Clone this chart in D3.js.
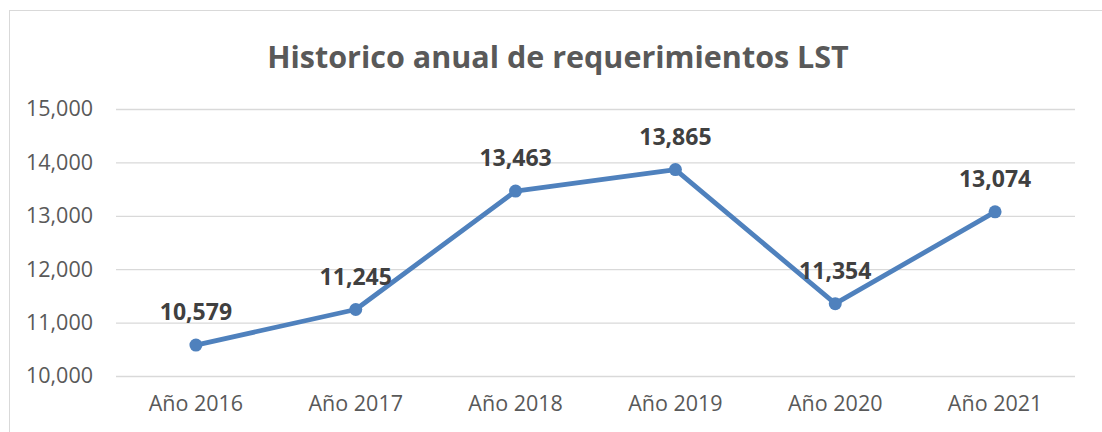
<!DOCTYPE html>
<html>
<head>
<meta charset="utf-8">
<script src="https://cdn.jsdelivr.net/npm/d3@7"></script>
<style>
  body { margin: 0; background: #fff; }
  svg { display: block; }
</style>
</head>
<body>
<script>
var years = ['Año 2016', 'Año 2017', 'Año 2018', 'Año 2019', 'Año 2020', 'Año 2021'];
var values = [10579, 11245, 13463, 13865, 11354, 13074];
var yTicks = [10000, 11000, 12000, 13000, 14000, 15000];
var title = 'Historico anual de requerimientos LST';

var width = 1102,
    height = 432;
var plotLeft = 116, plotRight = 1075, plotTop = 109, plotBottom = 376;
var font = '"Open Sans", sans-serif';

var svg = d3.select('body').append('svg')
    .attr('width', width)
    .attr('height', height)
    .style('font-family', font);

/* chart border */
svg.append('rect')
    .attr('x', 9.5).attr('y', 10.5)
    .attr('width', 1110).attr('height', 440)
    .attr('fill', 'none')
    .attr('stroke', '#d9d9d9')
    .attr('stroke-width', 1);

svg.append('text')
    .attr('x', 558).attr('y', 68)
    .attr('text-anchor', 'middle')
    .attr('font-size', 30.5)
    .attr('font-weight', 'bold')
    .attr('fill', '#595959')
    .text(title);

var x = d3.scaleBand().domain(years).range([plotLeft, plotRight]);
var y = d3.scaleLinear().domain([10000, 15000]).range([plotBottom, plotTop]);
var fmt = d3.format(',');

/* gridlines + y labels */
var yAxis = svg.append('g')
    .attr('transform', 'translate(' + plotLeft + ',0)')
    .call(d3.axisLeft(y).tickValues(yTicks).tickFormat(fmt)
        .tickSize(-(plotRight - plotLeft)).tickPadding(23));
yAxis.select('.domain').remove();
yAxis.selectAll('line').attr('stroke', '#d9d9d9').attr('stroke-width', 1.3);
yAxis.selectAll('text')
    .attr('fill', '#595959')
    .style('font-family', font)
    .style('font-size', '21.5px');

/* x labels */
var xAxis = svg.append('g')
    .attr('transform', 'translate(0,' + plotBottom + ')')
    .call(d3.axisBottom(x).tickSize(0).tickPadding(20));
xAxis.select('.domain').remove();
xAxis.selectAll('text')
    .attr('fill', '#595959')
    .style('font-family', font)
    .style('font-size', '21.5px');

var cx = d => x(d) + x.bandwidth() / 2;
var pts = years.map((d, i) => [cx(d), y(values[i])]);

svg.append('path')
    .attr('d', d3.line()(pts))
    .attr('fill', 'none')
    .attr('stroke', '#4f81bd')
    .attr('stroke-width', 4.8)
    .attr('stroke-linejoin', 'round');

svg.selectAll('circle.pt').data(pts).enter().append('circle')
    .attr('cx', d => d[0]).attr('cy', d => d[1])
    .attr('r', 6.5)
    .attr('fill', '#4f81bd');

svg.selectAll('text.lbl').data(values).enter().append('text')
    .attr('class', 'lbl')
    .attr('x', (d, i) => pts[i][0])
    .attr('y', (d, i) => pts[i][1] - 25)
    .attr('text-anchor', 'middle')
    .attr('font-size', 23)
    .attr('font-weight', 'bold')
    .attr('fill', '#404040')
    .text(d => fmt(d));
</script>
</body>
</html>
